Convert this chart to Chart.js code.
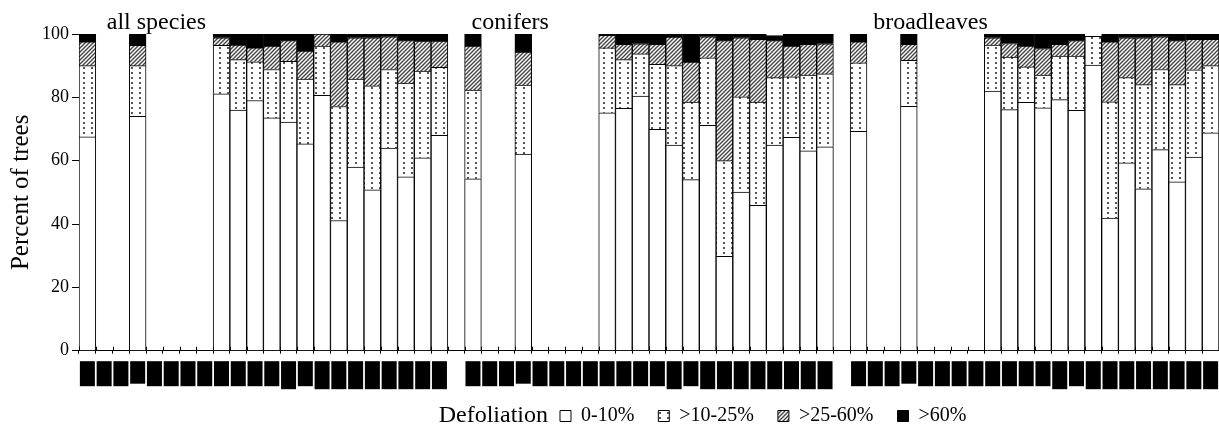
<!DOCTYPE html>
<html>
<head>
<meta charset="utf-8">
<script src="https://cdn.jsdelivr.net/npm/chart.js@4.4.1/dist/chart.umd.min.js"></script>
<style>
  html, body { margin: 0; padding: 0; background: #fff; }
</style>
</head>
<body>
<canvas id="chart" width="1219" height="434"></canvas>
<script>
// Groupes et positions (22 emplacements par groupe, séparés par une colonne vide)
const groupNames = ["all species", "conifers", "broadleaves"];
const slotLabels = ["1", "2", "3", "4", "5", "6", "7", "8", "9", "10", "11",
  "12", "13", "14", "15", "16", "17", "18", "19", "20", "21", "22"];
const classNames = ["0-10%", ">10-25%", ">25-60%", ">60%"];
const n = null;

// all species
const allClass1 = [67.5, n, n, 74, n, n, n, n, 81.1, 76, 79, 73.5, 72.2, 65.3, 80.6, 41.1, 58, 50.8, 64, 54.9, 60.9, 68];
const allClass2 = [22.5, n, n, 16, n, n, n, n, 15.3, 15.9, 12.2, 15.3, 19.2, 20.5, 15.6, 36, 27.8, 32.8, 24.8, 29.6, 27.4, 21.5];
const allClass3 = [7.5, n, n, 6.4, n, n, n, n, 2.4, 4.6, 4.4, 7.4, 6.5, 8.8, 3.8, 20.4, 13, 15.2, 10.3, 13.4, 9.5, 8.3];
const allClass4 = [2.5, n, n, 3.6, n, n, n, n, 1.2, 3.5, 4.4, 3.8, 2.1, 5.4, 0, 2.5, 1.2, 1.2, 0.9, 2.1, 2.2, 2.2];

// conifers
const conClass1 = [54.3, n, n, 62.1, n, n, n, n, 75.1, 76.5, 80.4, 69.9, 64.9, 54, 71.2, 29.8, 50.1, 45.9, 64.9, 67.4, 63.1, 64.4];
const conClass2 = [28, n, n, 21.8, n, n, n, n, 20.5, 15.4, 13.3, 20.5, 25.1, 24.5, 21.3, 30.2, 30.1, 32.6, 21.3, 19.1, 23.9, 23];
const conClass3 = [13.9, n, n, 10.4, n, n, n, n, 4, 4.8, 3.2, 6.3, 9, 12.6, 6.6, 37.9, 18.6, 19.8, 11.7, 9.7, 9.7, 9.5];
const conClass4 = [3.8, n, n, 5.7, n, n, n, n, 0.4, 3.3, 3.1, 3.3, 1, 8.9, 0.9, 2.1, 1.2, 1.7, 1.6, 3.8, 3.3, 3.1];

// broadleaves
const broClass1 = [69.3, n, n, 77.2, n, n, n, n, 82, 76.1, 78.4, 76.7, 79.3, 75.9, 90.2, 41.9, 59.3, 51.1, 63.5, 53.3, 61.1, 68.8];
const broClass2 = [21.6, n, n, 14.5, n, n, n, n, 14.5, 16.6, 11.2, 10.3, 13.7, 17.1, 9.1, 36.7, 26.9, 32.9, 25.3, 30.7, 27.6, 21.2];
const broClass3 = [6.6, n, n, 5, n, n, n, n, 2.3, 4.3, 6.6, 8.4, 3.7, 4.9, 0, 18.9, 12.6, 14.8, 10.3, 13.9, 9.6, 8.3];
const broClass4 = [2.5, n, n, 3.3, n, n, n, n, 1.2, 3, 3.8, 4.6, 3.3, 2.1, 0, 2.5, 1.2, 1.2, 0.9, 2.1, 1.7, 1.7];

// --- style ---
const FONT = "'Liberation Serif', 'Times New Roman', serif";
const TITLE_OFFSETS = [11, 7, 23];      // décalage des titres de groupe (px)
const LEGEND_LEFT = 536;                // début de la légende

function F_join(A_a, A_b, A_c) {
  return [...A_a, null, ...A_b, null, ...A_c];
}

const categories = F_join(
  slotLabels.map((S_l) => groupNames[0] + " " + S_l),
  slotLabels.map((S_l) => groupNames[1] + " " + S_l),
  slotLabels.map((S_l) => groupNames[2] + " " + S_l)
).map((S_l) => (S_l === null ? "" : S_l));

function F_dots() {
  const O_c = document.createElement("canvas");
  O_c.width = 8; O_c.height = 5;
  const O_g = O_c.getContext("2d");
  O_g.fillStyle = "#fff"; O_g.fillRect(0, 0, 8, 5);
  O_g.fillStyle = "#555"; O_g.fillRect(3, 2, 2, 2);
  return O_g.createPattern(O_c, "repeat");
}

function F_hatch() {
  const O_c = document.createElement("canvas");
  O_c.width = 4; O_c.height = 4;
  const O_g = O_c.getContext("2d");
  O_g.fillStyle = "#fff"; O_g.fillRect(0, 0, 4, 4);
  O_g.strokeStyle = "#444"; O_g.lineWidth = 1.4;
  O_g.beginPath();
  O_g.moveTo(-1, 5); O_g.lineTo(5, -1);
  O_g.moveTo(-1, 1); O_g.lineTo(1, -1);
  O_g.moveTo(3, 5); O_g.lineTo(5, 3);
  O_g.stroke();
  return O_g.createPattern(O_c, "repeat");
}

const A_fills = ["#ffffff", F_dots(), F_hatch(), "#000000"];
const A_series = [
  F_join(allClass1, conClass1, broClass1),
  F_join(allClass2, conClass2, broClass2),
  F_join(allClass3, conClass3, broClass3),
  F_join(allClass4, conClass4, broClass4),
];

// Étiquettes d'années masquées : blocs noirs sous l'axe
const extrasPlugin = {
  id: "extras",
  afterLayout(O_chart) {
    const O_lg = O_chart.legend;
    O_lg.left = LEGEND_LEFT;
    O_lg.top += 2;
  },
  afterDraw(O_chart) {
    const O_ctx = O_chart.ctx;
    const O_x = O_chart.scales.x;
    const O_area = O_chart.chartArea;
    const F_w = (O_area.right - O_area.left) / categories.length;
    O_ctx.save();

    // partie haute des graduations de l'axe X
    O_ctx.strokeStyle = "#000";
    O_ctx.lineWidth = 1;
    O_ctx.beginPath();
    for (let i = 0; i <= categories.length; i++) {
      const F_px = Math.round(O_area.left + i * F_w) + 0.5;
      O_ctx.moveTo(F_px, O_area.bottom - 4);
      O_ctx.lineTo(F_px, O_area.bottom);
    }
    O_ctx.stroke();

    // blocs
    O_ctx.fillStyle = "#000";
    categories.forEach((S_l, i) => {
      if (S_l === "") return;
      const I_slot = i % (slotLabels.length + 1);
      let F_h = 25;
      if (I_slot === 3) F_h = 22.5;
      if (I_slot === 12 || I_slot >= 14) F_h = 28;
      const F_cx = O_x.getPixelForValue(i);
      O_ctx.fillRect(F_cx - 7.5, O_area.bottom + 10.5, 15, F_h);
    });

    // titres de groupe
    O_ctx.font = "24px " + FONT;
    O_ctx.textBaseline = "alphabetic";
    O_ctx.textAlign = "left";
    groupNames.forEach((S_name, g) => {
      const I_first = g * (slotLabels.length + 1) + (g === 0 ? 1 : 0);
      const F_left = O_area.left + I_first * F_w;
      O_ctx.fillText(S_name, F_left + TITLE_OFFSETS[g], 29);
    });

    // "Defoliation" devant la légende
    const O_lg = O_chart.legend;
    const F_ly = O_lg.top + O_lg.options.labels.padding + 10;
    O_ctx.font = "24px " + FONT;
    O_ctx.textAlign = "right";
    O_ctx.textBaseline = "middle";
    O_ctx.fillText("Defoliation", O_lg.left + O_lg.options.labels.padding - 12, F_ly);
    O_ctx.restore();
  },
};

new Chart(document.getElementById("chart").getContext("2d"), {
  type: "bar",
  data: {
    labels: categories,
    datasets: classNames.map((S_name, i) => ({
      label: S_name,
      data: A_series[i],
      backgroundColor: A_fills[i],
      borderColor: "#000",
      borderWidth: { top: 1, left: 1, right: 1, bottom: 0 },
      borderSkipped: false,
      barPercentage: 1,
      categoryPercentage: 1,
    })),
  },
  options: {
    responsive: false,
    animation: false,
    layout: { padding: { top: 34, left: 0, right: 0, bottom: 0 } },
    plugins: {
      tooltip: { enabled: false },
      legend: {
        position: "bottom",
        align: "start",
        labels: {
          boxWidth: 11,
          boxHeight: 11,
          padding: 24,
          color: "#000",
          font: { family: FONT, size: 20 },
          generateLabels(O_chart) {
            const A_items = Chart.defaults.plugins.legend.labels.generateLabels(O_chart);
            A_items.forEach((O_it) => { O_it.lineWidth = 1; O_it.strokeStyle = "#000"; });
            return A_items;
          },
        },
      },
    },
    scales: {
      x: {
        stacked: true,
        offset: true,
        grid: { drawOnChartArea: false, tickLength: 3, color: "#000", offset: true },
        border: { color: "#000", width: 1 },
        ticks: { display: false },
        afterFit(O_scale) { O_scale.height = 29.3; },
      },
      y: {
        stacked: true,
        min: 0,
        max: 100,
        grid: { drawOnChartArea: false, tickLength: 7, color: "#000" },
        border: { color: "#000", width: 1 },
        ticks: { stepSize: 20, padding: 3, color: "#000", font: { family: FONT, size: 18 } },
        title: {
          display: true,
          text: "Percent of trees",
          color: "#000",
          font: { family: FONT, size: 25 },
          padding: { top: 6, bottom: 0 },
        },
        afterFit(O_scale) { O_scale.width = 79; },
      },
    },
  },
  plugins: [extrasPlugin],
});
</script>
</body>
</html>
